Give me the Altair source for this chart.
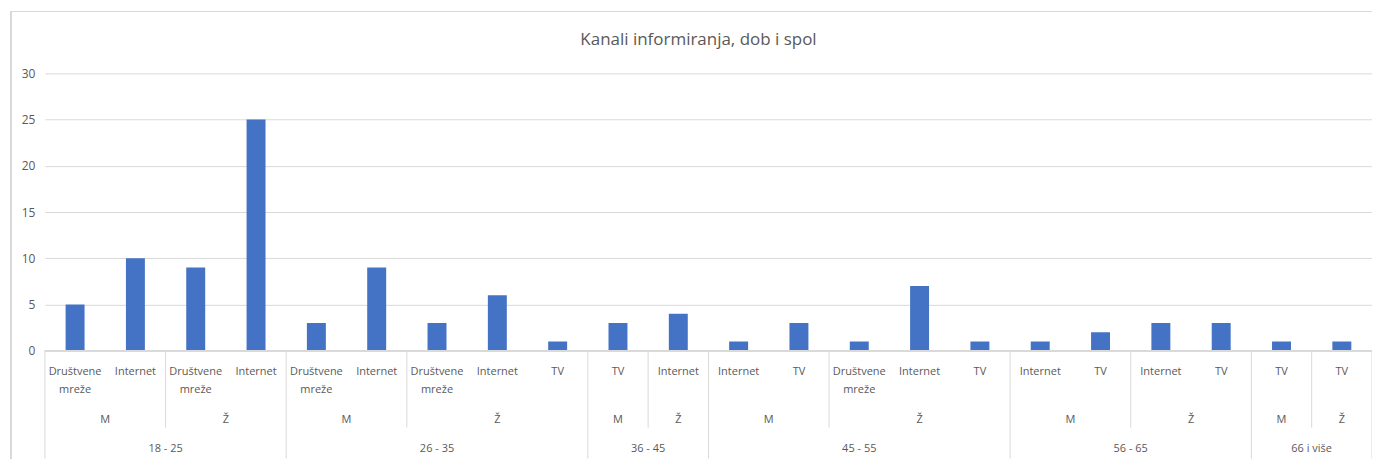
import altair as alt
import pandas as pd

TITLE = "Kanali informiranja, dob i spol"

AGE = ["18 - 25"] * 4 + ["26 - 35"] * 5 + ["36 - 45"] * 2 + ["45 - 55"] * 5 + ["56 - 65"] * 4 + ["66 i više"] * 2
GENDER = ["M", "M", "Ž", "Ž",
          "M", "M", "Ž", "Ž", "Ž",
          "M", "Ž",
          "M", "M", "Ž", "Ž", "Ž",
          "M", "M", "Ž", "Ž",
          "M", "Ž"]
CHANNEL = ["Društvene mreže", "Internet", "Društvene mreže", "Internet",
           "Društvene mreže", "Internet", "Društvene mreže", "Internet", "TV",
           "TV", "Internet",
           "Internet", "TV", "Društvene mreže", "Internet", "TV",
           "Internet", "TV", "Internet", "TV",
           "TV", "TV"]
VALUES = [5, 10, 9, 25,
          3, 9, 3, 6, 1,
          3, 4,
          1, 3, 1, 7, 1,
          1, 2, 3, 3,
          1, 1]
Y_TICKS = [0, 5, 10, 15, 20, 25, 30]

N = len(VALUES)
W, H = 1330, 278
TXT = "#595959"
GRID = "#d9d9d9"
FONT = "Open Sans"

bars = pd.DataFrame({
    "x": [i + 0.5 for i in range(N)],
    "value": VALUES,
    "label": [c.replace(" ", "\n") if c.startswith("Društvene") else c for c in CHANNEL],
    "age": AGE,
    "gender": GENDER,
})

# group spans
def spans(keys):
    out = []
    start = 0
    for i in range(1, N + 1):
        if i == N or keys[i] != keys[start]:
            out.append((start, i, keys[start]))
            start = i
    return out

g_spans = spans(list(zip(AGE, GENDER)))
a_spans = spans(AGE)
gender_df = pd.DataFrame({"x": [(s + e) / 2 for s, e, k in g_spans], "label": [k[1] for s, e, k in g_spans]})
age_df = pd.DataFrame({"x": [(s + e) / 2 for s, e, k in a_spans], "label": [k for s, e, k in a_spans]})
age_bounds = sorted(set([s for s, e, k in a_spans] + [e for s, e, k in a_spans]))
gender_bounds = sorted(set(b for s, e, k in g_spans for b in (s, e)) - set(age_bounds))
age_b_df = pd.DataFrame({"x": age_bounds})
gen_b_df = pd.DataFrame({"x": gender_bounds})

xscale = alt.Scale(domain=[0, N], nice=False, zero=False, padding=0)
X = alt.X("x:Q", scale=xscale, axis=None)

bar_layer = alt.Chart(bars).mark_bar(width=19, color="#4472C4").encode(
    x=X,
    y=alt.Y("value:Q", scale=alt.Scale(domain=[0, 30], nice=False, padding=0),
            axis=alt.Axis(values=Y_TICKS, title=None, ticks=False, domain=False,
                          labelColor=TXT, labelFontSize=12, labelFont=FONT,
                          labelPadding=10, gridColor=GRID, gridWidth=1)),
)

chan_layer = alt.Chart(bars).mark_text(
    lineBreak="\n", baseline="top", lineHeight=18, fontSize=11, font=FONT, color=TXT
).encode(x=X, y=alt.value(293), text="label:N")

gender_layer = alt.Chart(gender_df).mark_text(
    baseline="middle", fontSize=11, font=FONT, color=TXT
).encode(x=X, y=alt.value(347), text="label:N")

age_layer = alt.Chart(age_df).mark_text(
    baseline="middle", fontSize=11, font=FONT, color=TXT
).encode(x=X, y=alt.value(376), text="label:N")

gen_rules = alt.Chart(gen_b_df).mark_rule(color=GRID, strokeWidth=1).encode(
    x=X, y=alt.value(H), y2=alt.value(355))
age_rules = alt.Chart(age_b_df).mark_rule(color=GRID, strokeWidth=1).encode(
    x=X, y=alt.value(H), y2=alt.value(386))

base_rule = alt.Chart(bars).mark_rule(color=GRID, strokeWidth=1).encode(
    x=alt.value(0), x2=alt.value(W), y=alt.value(H))

border_left = alt.Chart(bars).mark_rule(color=GRID, strokeWidth=1).encode(
    x=alt.value(-34), y=alt.value(-62), y2=alt.value(400))
border_top = alt.Chart(bars).mark_rule(color=GRID, strokeWidth=1).encode(
    x=alt.value(-34), x2=alt.value(1345), y=alt.value(-62))

title_layer = alt.Chart(pd.DataFrame({"t": [TITLE]})).mark_text(
    baseline="middle", align="center", fontSize=17, font=FONT, color=TXT
).encode(x=alt.value(655), y=alt.value(-33), text="t:N")

chart = alt.layer(
    border_left, border_top, bar_layer, base_rule, gen_rules, age_rules,
    chan_layer, gender_layer, age_layer, title_layer
).properties(
    width=W, height=H,
    autosize=alt.AutoSizeParams(type="none"),
    padding={"left": 37, "top": 65, "right": 0, "bottom": 108},
).configure_view(stroke=None)

chart.save("out.html", embed_options={"renderer": "svg", "actions": False})
